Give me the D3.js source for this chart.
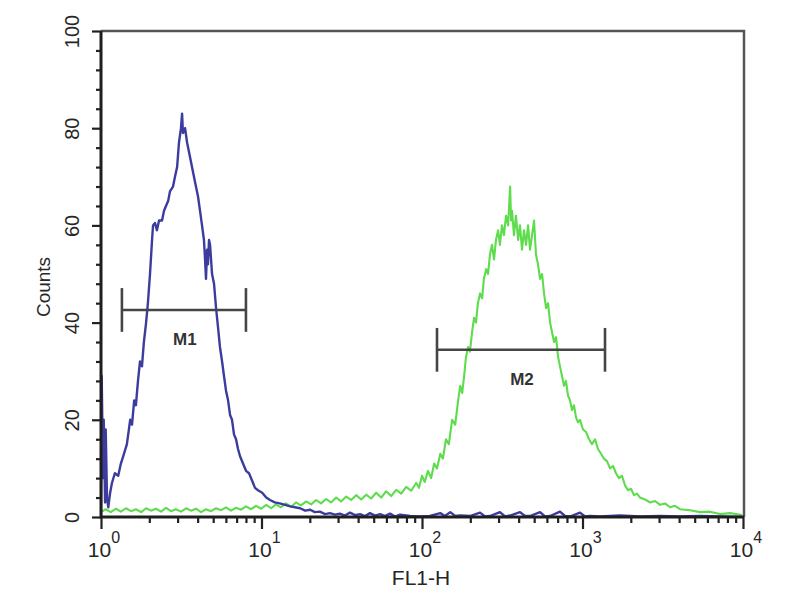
<!DOCTYPE html>
<html><head><meta charset="utf-8">
<script src="https://cdn.jsdelivr.net/npm/d3@7"></script>
<style>
body{margin:0;background:#fff}
svg{display:block}
text{font-family:"Liberation Sans",Arial,sans-serif;fill:#262626}
</style>
</head><body>
<svg id="chart" width="800" height="600"></svg>
<script>
// ---- data ----
const blueFL1 = [1.00,1.01,1.03,1.04,1.06,1.07,1.09,1.11,1.14,1.17,1.22,1.28,1.33,1.39,1.45,1.52,1.56,1.61,1.65,1.70,1.75,1.80,1.85,1.91,1.96,2.02,2.08,2.11,2.17,2.23,2.30,2.40,2.47,2.54,2.62,2.69,2.81,2.89,2.98,3.06,3.15,3.20,3.24,3.34,3.44,3.54,3.69,3.85,4.02,4.14,4.26,4.38,4.45,4.51,4.58,4.64,4.71,4.78,4.92,5.06,5.21,5.36,5.51,5.68,5.84,6.01,6.19,6.37,6.55,6.74,6.94,7.14,7.35,7.67,8.01,8.36,8.73,9.11,9.51,10.1,10.7,11.3,12.1,13.0,15.1,17.4,18.7,20.1,21.5,23.1,24.9,26.7,28.7,30.8,33.1,35.6,38.3,41.1,44.2,47.4,51.0,54.8,58.8,63.2,67.9,73.0,84.2,97.2,112,130,139,150,161,173,199,230,247,265,306,329,354,408,438,471,544,584,628,724,778,836,965,1037,1114,1285,1712,2282,3040,4050,5396,7190,9860];
const blueCounts = [0,29,8,20,3,18,4,2,5,7,9,8.5,11,13,15,20,19,24,23,28,32,31,36,40,44,50,57,60,60.5,59,61,61,63,64,65,67,68,70,72,77,80,83,79,80,77,75,72,69,66,63,60,57,53,49,55,52,57,56,50,48,43,39,35,32,29,26,24,21,20,17,16,14,12.5,11,9.5,9,7.5,6,5.5,5,4,3.5,3,2.8,2.2,1.8,1.3,1.5,1.0,1.1,0.6,0.8,0.5,0.7,0.3,0.9,0.4,0.6,0.2,0.8,0.3,0.6,0.2,0.7,0.1,0.5,0.2,0.1,0.2,0.8,0.2,1.0,0.2,0.3,0.2,0.9,0.1,0.2,1.0,0.1,0.3,1.0,0.2,0.2,1.0,0.1,0.2,1.1,0.2,0.1,0.9,0.1,0.2,0.1,0.3,0.1,0.2,0.1,0.2,0.1,0];

const greenFL1 = [1.00,1.07,1.15,1.24,1.33,1.43,1.54,1.65,1.78,1.91,2.05,2.20,2.37,2.54,2.73,2.93,3.15,3.39,3.64,3.91,4.20,4.51,4.85,5.21,5.60,6.01,6.46,6.94,7.46,8.01,8.61,9.25,9.94,10.7,11.5,12.3,13.2,14.2,15.3,16.4,17.6,19.0,20.4,21.9,23.5,25.3,27.1,29.2,31.3,33.7,36.2,38.9,41.8,44.9,48.2,51.8,55.7,59.8,64.3,69.0,74.2,79.7,85.6,92.0,95.8,100,104,109,114,119,124,130,135,141,147,154,161,168,173,178,183,188,194,199,205,211,217,223,230,237,243,251,258,265,273,281,289,298,306,315,324,334,344,349,354,359,364,374,385,397,408,420,432,445,458,471,485,499,513,528,544,560,576,593,610,628,646,665,684,704,724,745,767,789,812,836,860,885,911,938,965,1007,1052,1098,1146,1197,1249,1304,1361,1421,1484,1549,1617,1688,1762,1840,1921,2005,2093,2185,2282,2452,2634,2830,3040,3267,3510,3771,4051,4675,5396,6229,7190,8299,9860];
const greenCounts = [1.0,1.6,1.0,1.7,1.1,1.8,1.2,1.6,1.0,1.8,1.3,1.7,1.1,1.9,1.2,1.6,1.1,1.8,1.3,1.7,1.0,1.6,1.2,1.8,1.4,2.0,1.3,1.9,1.5,2.2,1.6,2.3,1.7,2.5,1.8,2.6,2.0,2.8,2.1,3.0,2.4,3.2,2.6,3.5,2.8,3.7,3.0,4.0,3.2,4.2,3.5,4.5,3.6,4.6,3.8,5.0,4.0,5.3,4.3,5.6,4.8,6.2,5.4,7.0,6.0,8.5,7.2,9.5,8.0,11,10,13,12,16,15,20,19,24,27,25.5,29,33,35,34,38,41,40,44,46,45,49,51,50,54,56,53,57,59,56,60,58,62,60,64,68,61,63,58,62,57,60,55,59,56,60,55,58,61,54,52,49,50,46,43,44,40,38,36,37,33,31,29,27,28,25,24,22,23,20.5,19.5,20,18,17.5,16,15,16,14,13,12,11.5,10,10.5,9,8,8.5,6.5,5.5,5.8,4.5,4.8,4.0,3.6,3.0,3.3,2.5,2.8,2.0,2.3,1.6,1.4,1.0,1.1,0.6,0.8,0.4];

const yMajorTicks = [0,20,40,60,80,100];
const yMinorTicks = [4,8,12,16,24,28,32,36,44,48,52,56,64,68,72,76,84,88,92,96];
const xMajorTicks = [1,10,100,1000,10000];
const xTickExponents = ["0","1","2","3","4"];
const xMinorTicks = [2,3,4,5,6,7,8,9,20,30,40,50,60,70,80,90,200,300,400,500,600,700,800,900,2000,3000,4000,5000,6000,7000,8000,9000];

const markerNames = ["M1","M2"];
const markerStart = [1.35,124];
const markerEnd = [8.0,1381];
const markerLevel = [42.6,34.4];

const xTitle = "FL1-H";
const yTitle = "Counts";

// ---- drawing ----
const svg = d3.select("#chart");
const L = 101, R = 743, T = 31, B = 517;
const x = d3.scaleLog().domain([1,10000]).range([L,R]);
const y = d3.scaleLinear().domain([0,100]).range([B,T]);

svg.append("rect").attr("width",800).attr("height",600).attr("fill","#fff");

svg.append("defs").append("clipPath").attr("id","plot")
  .append("rect").attr("x",L).attr("y",T-2).attr("width",R-L+2).attr("height",B-T+2);

// frame top & right
svg.append("path")
  .attr("d",`M${L},${T}H${R+1}V${B}`)
  .attr("fill","none").attr("stroke","#555").attr("stroke-width",2.5);

const line = d3.line().x(d=>x(d[0])).y(d=>y(d[1]));
const plot = svg.append("g").attr("clip-path","url(#plot)");

plot.append("path").datum(d3.zip(greenFL1,greenCounts))
  .attr("d",line).attr("fill","none").attr("stroke","#5fdc4e")
  .attr("stroke-width",2.1).attr("stroke-linejoin","round");

plot.append("path").datum(d3.zip(blueFL1,blueCounts))
  .attr("d",line).attr("fill","none").attr("stroke","#3c3c9e")
  .attr("stroke-width",2.4).attr("stroke-linejoin","round");

// markers
const capHalf = 4.5;
markerNames.forEach((name,i)=>{
  const g = svg.append("g").attr("stroke","#454545").attr("stroke-width",2.6);
  const x0 = x(markerStart[i]), x1 = x(markerEnd[i]), yl = y(markerLevel[i]);
  g.append("line").attr("x1",x0).attr("x2",x1).attr("y1",yl).attr("y2",yl);
  [x0,x1].forEach(xx=>{
    g.append("line").attr("x1",xx).attr("x2",xx)
      .attr("y1",y(markerLevel[i]+capHalf)).attr("y2",y(markerLevel[i]-capHalf));
  });
  svg.append("text").attr("x",x(Math.sqrt(markerStart[i]*markerEnd[i]))+1)
    .attr("y",yl+35).attr("text-anchor","middle")
    .style("font-size","17px").style("font-weight","bold").style("fill","#333")
    .text(name);
});

// y axis
const yMinor = svg.append("g").attr("transform",`translate(${L},0)`)
  .call(d3.axisLeft(y).tickValues(yMinorTicks).tickSize(5).tickFormat(""));
const yMajor = svg.append("g").attr("transform",`translate(${L},0)`)
  .call(d3.axisLeft(y).tickValues(yMajorTicks).tickSize(9).tickFormat(d3.format("d")));
[yMinor,yMajor].forEach(g=>{
  g.select(".domain").remove();
  g.selectAll(".tick line").attr("stroke","#222").attr("stroke-width",2.2);
});
yMajor.selectAll(".tick text")
  .attr("x",null).attr("dy",null)
  .attr("transform","translate(-22,0) rotate(-90)")
  .attr("text-anchor","middle")
  .style("font-size","20px").style("font-family","'Liberation Sans',Arial,sans-serif").style("fill","#262626");

// x axis
const xMinor = svg.append("g").attr("transform",`translate(0,${B})`)
  .call(d3.axisBottom(x).tickValues(xMinorTicks).tickSize(6).tickFormat(""));
const xMajor = svg.append("g").attr("transform",`translate(0,${B})`)
  .call(d3.axisBottom(x).tickValues(xMajorTicks).tickSize(12).tickFormat(""));
[xMinor,xMajor].forEach(g=>{
  g.select(".domain").remove();
  g.selectAll(".tick line").attr("stroke","#222").attr("stroke-width",2.2);
});
const xl = svg.append("g").selectAll("text").data(xMajorTicks).join("text")
  .attr("x",(d)=>x(d)+3).attr("y",557).attr("text-anchor","middle")
  .style("font-size","21px");
xl.append("tspan").text("10");
xl.append("tspan").attr("dy",-14).style("font-size","16px").text((d,i)=>xTickExponents[i]);

// axis lines (left & bottom)
svg.append("path").attr("d",`M${L},${T}V${B}H${R+1}`)
  .attr("fill","none").attr("stroke","#1e1e1e").attr("stroke-width",3);

// titles
svg.append("text").attr("x",421).attr("y",585).attr("text-anchor","middle")
  .style("font-size","21px").text(xTitle);
svg.append("text").attr("transform","translate(50,287) rotate(-90)")
  .attr("text-anchor","middle").style("font-size","19px").text(yTitle);
</script>
</body></html>
